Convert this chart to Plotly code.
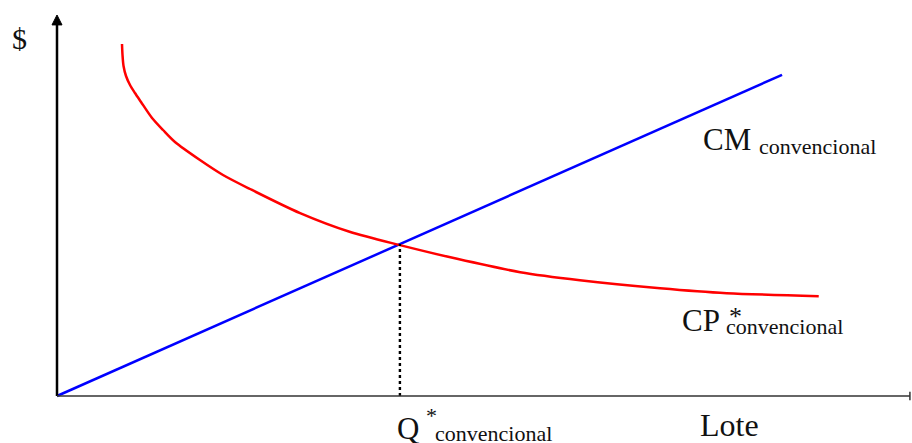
import plotly.graph_objects as go

W, H = 912, 443

# ---- data (arbitrary units: Lote on x, $ on y) ----
cm_x = [0.0, 85.0]
cm_y = [0.0, 84.3]
cp_x = [7.62, 7.68, 7.80, 8.09, 8.56, 9.14, 9.85, 11.14, 12.43, 13.83, 16.76,
        19.46, 22.63, 28.5, 34.3, 40.2, 46.9, 54.3, 61.3, 70.7, 78.5, 89.3]
cp_y = [92.39, 89.50, 86.61, 83.99, 81.63, 79.53, 77.17, 72.97, 69.82, 66.67, 61.94,
        58.01, 54.33, 48.0, 43.1, 39.6, 36.0, 32.5, 30.4, 28.3, 27.0, 26.2]
q_star = 40.2
q_star_cost = 39.9

# ---- layout geometry ----
X_RANGE = [-6.682, 100.234]
Y_RANGE = [-12.336, 103.937]
AX_TOP = 97.4      # top of the y axis shaft
ARROW_TIP = 100.0
X_END = 99.99

FONT = "Liberation Serif, Times New Roman, serif"

fig = go.Figure()

# CM line
fig.add_trace(go.Scatter(x=cm_x, y=cm_y, mode="lines",
                         line=dict(color="#0000ff", width=2.5), hoverinfo="skip"))
# CP* curve
fig.add_trace(go.Scatter(x=cp_x, y=cp_y, mode="lines",
                         line=dict(color="#ff0000", width=2.5, shape="spline", smoothing=0.8),
                         hoverinfo="skip"))
# dotted drop line at Q*
fig.add_trace(go.Scatter(x=[q_star, q_star], y=[0, q_star_cost], mode="lines",
                         line=dict(color="#000000", width=2.4, dash="dot"), hoverinfo="skip"))

shapes = [
    # y axis
    dict(type="line", xref="x", yref="y", x0=0, y0=0, x1=0, y1=AX_TOP,
         line=dict(color="#000000", width=2.5)),
    dict(type="path", xref="x", yref="y",
         path=f"M -0.586,{AX_TOP} L 0.586,{AX_TOP} L 0,{ARROW_TIP} Z",
         fillcolor="#000000", line=dict(color="#000000", width=1)),
    # x axis
    dict(type="line", xref="x", yref="y", x0=0, y0=0, x1=X_END, y1=0,
         line=dict(color="#333333", width=1.5)),
    dict(type="line", xref="x", yref="y", x0=X_END, y0=-1.1, x1=X_END, y1=1.1,
         line=dict(color="#333333", width=1.5)),
]


def ann(text, px, baseline, size, xanchor="left"):
    # place text so its baseline sits at pixel row `baseline`
    bottom = baseline + 0.216 * size + 1
    return dict(text=text, xref="paper", yref="paper", x=px / W, y=1 - bottom / H,
                xanchor=xanchor, yanchor="bottom", showarrow=False,
                font=dict(family=FONT, size=size, color="#111111"))


annotations = [
    ann("$", 10, 50, 30),
    ann("CM", 701, 151, 31),
    ann("convencional", 757, 155, 22),
    ann("CP", 680, 332, 31),
    ann("*", 727, 326, 26),
    ann("convencional", 724, 335, 22),
    ann("Q", 395, 440, 31),
    ann("*", 424, 424, 22),
    ann("convencional", 433, 442, 22),
    ann("Lote", 698, 437, 32),
]

fig.update_layout(
    width=W, height=H, autosize=False,
    margin=dict(l=0, r=0, t=0, b=0, pad=0),
    paper_bgcolor="white", plot_bgcolor="white",
    showlegend=False,
    xaxis=dict(range=X_RANGE, visible=False, fixedrange=True),
    yaxis=dict(range=Y_RANGE, visible=False, fixedrange=True),
    shapes=shapes, annotations=annotations,
)

fig.write_html("out.html", config={"displayModeBar": False},
               post_script="document.body.style.margin='0';document.body.style.overflow='hidden';")
